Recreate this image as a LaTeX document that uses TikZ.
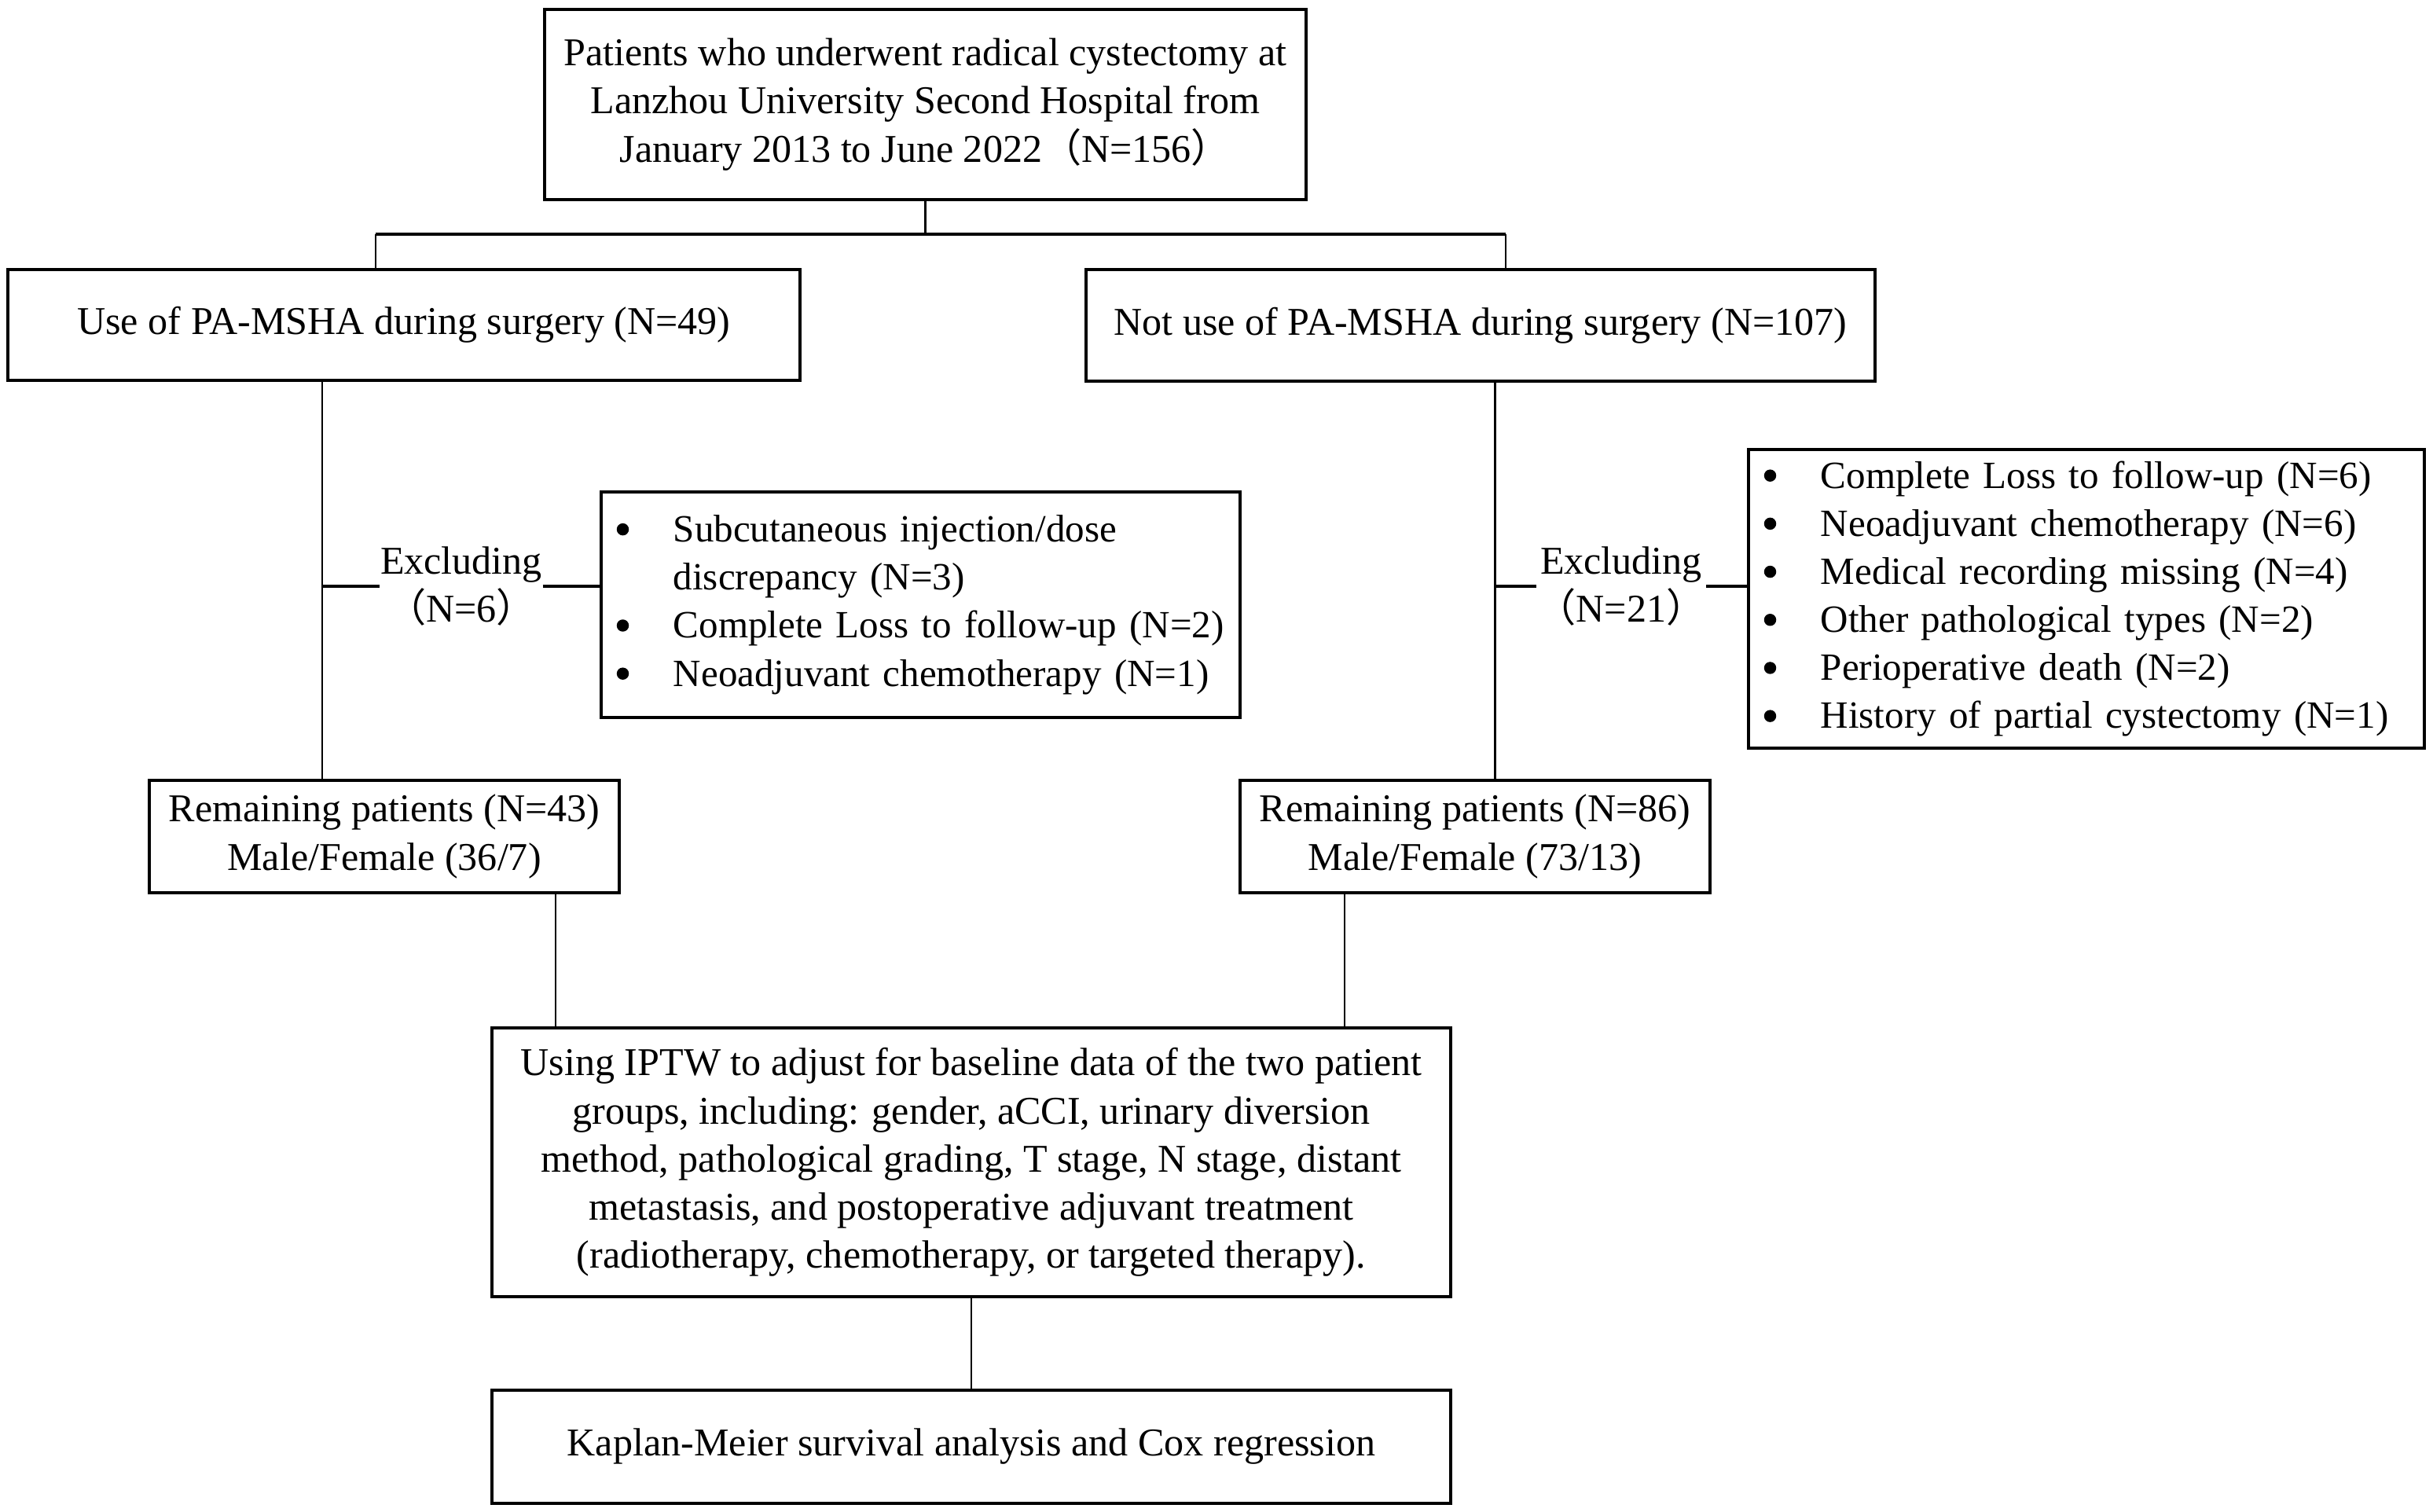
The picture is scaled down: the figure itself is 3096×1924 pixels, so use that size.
\documentclass[tikz,border=0pt]{standalone}
\usepackage{fontspec}
\setmainfont{Liberation Serif}
\newfontfamily\cjk{Noto Sans CJK SC}
\begin{document}
\begin{tikzpicture}[x=0.01cm,y=-0.01cm,
  box/.style={draw, line width=1.15pt, inner sep=0pt, align=center, font=\fontsize{14.25pt}{17.4pt}\selectfont},
  listbox/.style={draw, line width=1.15pt, inner sep=0pt, align=left, font=\fontsize{13.95pt}{17.4pt}\selectfont},
  lab/.style={inner sep=0pt, align=center, font=\fontsize{14.25pt}{17.4pt}\selectfont},
  conn/.style={line width=0.8pt},
  hconn/.style={line width=1.15pt}]
\useasboundingbox (0,0) rectangle (3096,1924);
\newcommand{\bul}{\hspace*{0.2cm}\makebox[0.72cm][l]{\tikz[baseline=-4.5pt]\fill (0,0) circle (2.2pt);}}
\newcommand{\ind}{\hspace*{0.92cm}}

\node[box, minimum width=9.69cm, minimum height=2.42cm] (top) at (1177.5,133)
  {Patients who underwent radical cystectomy at\\Lanzhou University Second Hospital from\\January 2013 to June 2022{\cjk （}N=156{\cjk ）}};
\node[box, minimum width=10.07cm, minimum height=1.415cm] (use) at (514,413.5)
  {Use of PA-MSHA during surgery (N=49)};
\node[box, minimum width=10.04cm, minimum height=1.42cm] (notuse) at (1884,414)
  {Not use of PA-MSHA during surgery (N=107)};
\node[listbox, text width=8.13cm, minimum height=2.87cm] (exclL) at (1171.5,769.5)
  {\bul Subcutaneous injection/dose\\\ind discrepancy (N=3)\\\bul Complete Loss to follow-up (N=2)\\\bul Neoadjuvant chemotherapy (N=1)};
\node[listbox, text width=8.6cm, minimum height=3.79cm] (exclR) at (2655,762)
  {\bul Complete Loss to follow-up (N=6)\\\bul Neoadjuvant chemotherapy (N=6)\\\bul Medical recording missing (N=4)\\\bul Other pathological types (N=2)\\\bul Perioperative death (N=2)\\\bul History of partial cystectomy (N=1)};
\node[lab] (labL) at (587,746) {Excluding\\{\cjk （}N=6{\cjk ）}};
\node[lab] (labR) at (2063,746) {Excluding\\{\cjk （}N=21{\cjk ）}};
\node[box, minimum width=5.975cm, minimum height=1.43cm] (remL) at (489,1064.5)
  {Remaining patients (N=43)\\Male/Female (36/7)};
\node[box, minimum width=5.975cm, minimum height=1.43cm] (remR) at (1877,1064.5)
  {Remaining patients (N=86)\\Male/Female (73/13)};
\node[box, minimum width=12.185cm, minimum height=3.42cm] (iptw) at (1236,1479)
  {Using IPTW to adjust for baseline data of the two patient\\groups, including: gender, aCCI, urinary diversion\\method, pathological grading, T stage, N stage, distant\\metastasis, and postoperative adjuvant treatment\\(radiotherapy, chemotherapy, or targeted therapy).};
\node[box, minimum width=12.185cm, minimum height=1.43cm] (km) at (1236,1841)
  {Kaplan-Meier survival analysis and Cox regression};

\coordinate (busL) at (478,298);
\coordinate (busR) at (1916,298);
\coordinate (vL) at (410,746);
\coordinate (vR) at (1902.5,746);
\coordinate (dL) at (707,1220);
\coordinate (dR) at (1711,1220);

\draw[conn] (top.south) -- (top.south |- busL);
\draw[hconn] (busL) -- (busR);
\draw[conn] (busL) -- (busL |- use.north);
\draw[conn] (busR) -- (busR |- notuse.north);
\draw[conn] (use.south -| vL) -- (remL.north -| vL);
\draw[conn] (notuse.south -| vR) -- (remR.north -| vR);
\draw[hconn] (vL) -- (labL.west);
\draw[hconn] (labL.east) -- (labL.east -| exclL.west);
\draw[hconn] (vR) -- (labR.west);
\draw[hconn] (labR.east) -- (labR.east -| exclR.west);
\draw[conn] (remL.south -| dL) -- (iptw.north -| dL);
\draw[conn] (remR.south -| dR) -- (iptw.north -| dR);
\draw[conn] (iptw.south) -- (km.north);
\end{tikzpicture}
\end{document}
